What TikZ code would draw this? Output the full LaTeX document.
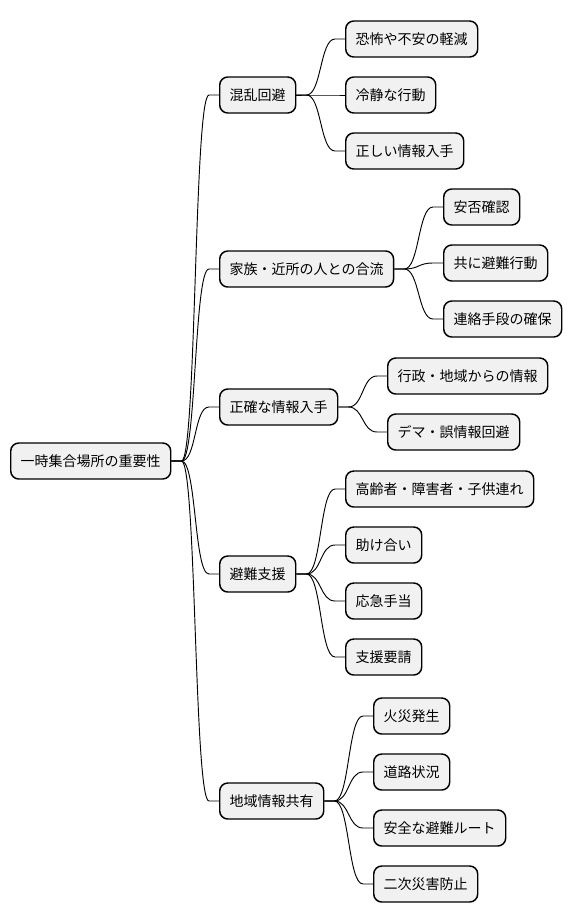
\documentclass[tikz,border=0pt]{standalone}
\usepackage{fontspec}
\setmainfont{Noto Sans CJK JP}
\usepackage{xcolor}
\usetikzlibrary{calc}
\definecolor{boxfill}{HTML}{F1F1F1}
\newcommand{\branchto}[2]{\draw[branch] (#1.east) -- ++(10,0) .. controls +(15,0) and +(-15,0) .. ([xshift=-7.5pt]#2.west) -- (#2.west);}

\begin{document}
\begin{tikzpicture}[
    x=0.75pt, y=-0.75pt,
    topic/.style={draw=black, line width=1.1pt, fill=boxfill, rounded corners=6pt, anchor=west, minimum height=27pt, inner xsep=7.5pt, inner ysep=0pt, font=\fontsize{10.5}{12}\selectfont},
    branch/.style={draw=black, line width=0.7pt}
]
\useasboundingbox (0,0) rectangle (572,921);

% root and first level
\node[topic] (root) at (10,461) {一時集合場所の重要性};
\node[topic] (konran) at (219,95) {混乱回避};
\node[topic] (kazoku) at (219,269) {家族・近所の人との合流};
\node[topic] (seikaku) at (219,407) {正確な情報入手};
\node[topic] (shien) at (219,574) {避難支援};
\node[topic] (chiiki) at (219,801) {地域情報共有};
\foreach \p in {konran,kazoku,seikaku,shien,chiiki} {
    \branchto{root}{\p}
}

% second level
\foreach \nm/\yy/\txt in {ka/39/恐怖や不安の軽減, kb/95/冷静な行動, kc/151/正しい情報入手} {
    \node[topic] (\nm) at (345,\yy) {\txt};
    \branchto{konran}{\nm}
}
\foreach \nm/\yy/\txt in {za/207/安否確認, zb/263/共に避難行動, zc/319/連絡手段の確保} {
    \node[topic] (\nm) at (443,\yy) {\txt};
    \branchto{kazoku}{\nm}
}
\foreach \nm/\yy/\txt in {sa/376/行政・地域からの情報, sb/432/デマ・誤情報回避} {
    \node[topic] (\nm) at (387,\yy) {\txt};
    \branchto{seikaku}{\nm}
}
\foreach \nm/\yy/\txt in {ha/489/高齢者・障害者・子供連れ, hb/545/助け合い, hc/601/応急手当, hd/657/支援要請} {
    \node[topic] (\nm) at (345,\yy) {\txt};
    \branchto{shien}{\nm}
}
\foreach \nm/\yy/\txt in {ca/716/火災発生, cb/772/道路状況, cc/828/安全な避難ルート, cd/884/二次災害防止} {
    \node[topic] (\nm) at (373,\yy) {\txt};
    \branchto{chiiki}{\nm}
}
\end{tikzpicture}
\end{document}
